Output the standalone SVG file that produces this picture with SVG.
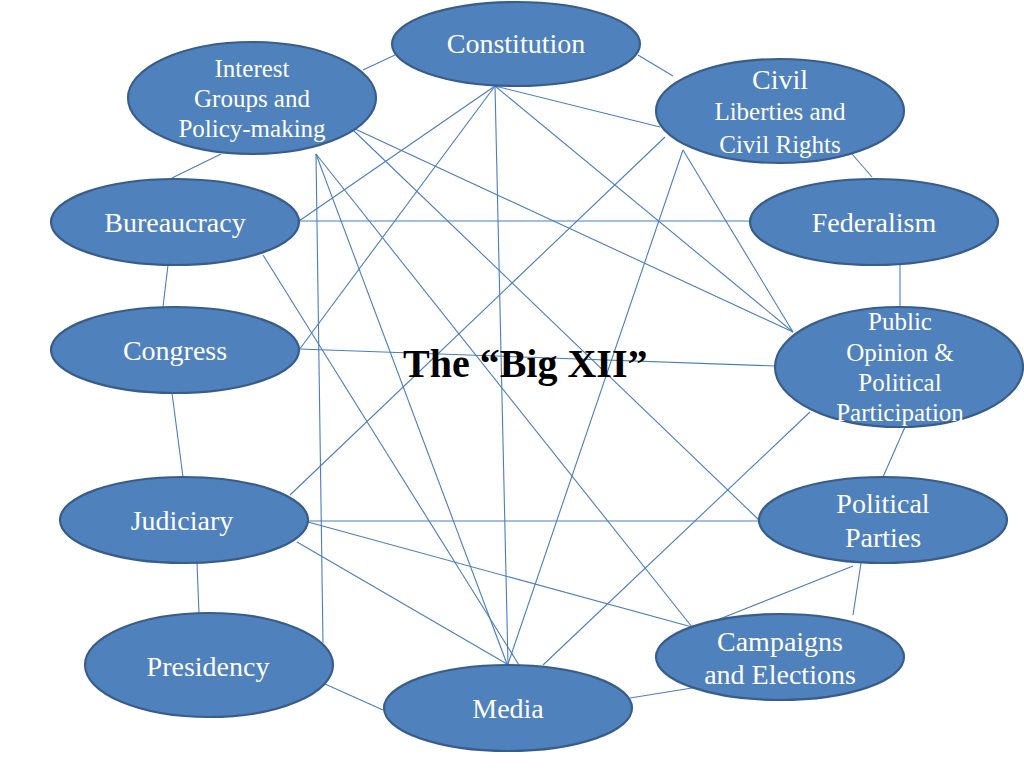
<svg xmlns="http://www.w3.org/2000/svg" width="1024" height="768" viewBox="0 0 1024 768">
<style>
.c line{stroke:#4A7EBB;stroke-width:1.1;fill:none}
.n ellipse{fill:#4F81BD;stroke:#385D8A;stroke-width:2.2}
.n text{fill:#ffffff;font-family:"Liberation Serif","Times New Roman",serif;text-anchor:middle}
.t28{font-size:28px}
.t25{font-size:25px}
.title{font-family:"Liberation Serif","Times New Roman",serif;font-weight:bold;font-size:40px;fill:#000000}
</style>
<rect width="1024" height="768" fill="#ffffff"/>
<g id="connectors" class="c">
<line x1="395" y1="55" x2="363" y2="70"/>
<line x1="638" y1="55" x2="673" y2="76"/>
<line x1="221" y1="154" x2="172" y2="178"/>
<line x1="852" y1="154" x2="872" y2="177"/>
<line x1="168" y1="265" x2="163" y2="307"/>
<line x1="900" y1="265" x2="900" y2="307"/>
<line x1="172" y1="393" x2="183" y2="477"/>
<line x1="905" y1="427" x2="883" y2="477"/>
<line x1="197" y1="563" x2="199" y2="614"/>
<line x1="861" y1="563" x2="853" y2="615"/>
<line x1="325" y1="684" x2="383" y2="710"/>
<line x1="630" y1="698" x2="692" y2="688"/>
<line x1="495" y1="86" x2="299" y2="221"/>
<line x1="495" y1="86" x2="299" y2="350"/>
<line x1="495" y1="86" x2="508" y2="664"/>
<line x1="495" y1="86" x2="660" y2="127"/>
<line x1="495" y1="86" x2="793" y2="332"/>
<line x1="299" y1="221" x2="750" y2="221"/>
<line x1="353" y1="128" x2="793" y2="332"/>
<line x1="353" y1="130" x2="759" y2="520"/>
<line x1="316" y1="154" x2="323" y2="643"/>
<line x1="316" y1="154" x2="507" y2="664"/>
<line x1="316" y1="154" x2="692" y2="627"/>
<line x1="665" y1="137" x2="290" y2="495"/>
<line x1="683" y1="150" x2="793" y2="332"/>
<line x1="683" y1="150" x2="508" y2="664"/>
<line x1="299" y1="349" x2="775" y2="366"/>
<line x1="263" y1="255" x2="519" y2="665"/>
<line x1="308" y1="521" x2="759" y2="521"/>
<line x1="308" y1="522" x2="692" y2="627"/>
<line x1="297" y1="542" x2="507" y2="664"/>
<line x1="810" y1="412" x2="543" y2="665"/>
<line x1="853" y1="566" x2="712" y2="622"/>
</g>
<g id="constitution" class="n"><ellipse cx="516" cy="44" rx="124" ry="42"/><text class="t28" x="516" y="53">Constitution</text></g>
<g id="interest-groups" class="n"><ellipse cx="252" cy="98" rx="124" ry="56"/><text class="t25" x="252" y="77">Interest</text><text class="t25" x="252" y="107">Groups and</text><text class="t25" x="252" y="137">Policy-making</text></g>
<g id="civil-liberties" class="n"><ellipse cx="780" cy="111" rx="124" ry="52"/><text class="t28" x="780" y="89">Civil</text><text class="t25" x="780" y="120">Liberties and</text><text class="t25" x="780" y="153">Civil Rights</text></g>
<g id="federalism" class="n"><ellipse cx="874" cy="222" rx="124" ry="43"/><text class="t28" x="874" y="232">Federalism</text></g>
<g id="bureaucracy" class="n"><ellipse cx="175" cy="222" rx="124" ry="43"/><text class="t28" x="175" y="232">Bureaucracy</text></g>
<g id="congress" class="n"><ellipse cx="175" cy="350" rx="124" ry="43"/><text class="t28" x="175" y="360">Congress</text></g>
<g id="public-opinion" class="n"><ellipse cx="899" cy="367" rx="124" ry="60"/><text class="t25" x="900" y="330">Public</text><text class="t25" x="900" y="361">Opinion &amp;</text><text class="t25" x="900" y="391">Political</text><text class="t25" x="900" y="421">Participation</text></g>
<g id="judiciary" class="n"><ellipse cx="184" cy="520" rx="124" ry="43"/><text class="t28" x="182" y="530">Judiciary</text></g>
<g id="political-parties" class="n"><ellipse cx="883" cy="520" rx="124" ry="43"/><text class="t28" x="883" y="513">Political</text><text class="t28" x="883" y="547">Parties</text></g>
<g id="presidency" class="n"><ellipse cx="209" cy="665" rx="124" ry="52"/><text class="t28" x="208" y="676">Presidency</text></g>
<g id="campaigns" class="n"><ellipse cx="780" cy="657" rx="124" ry="43"/><text class="t28" x="780" y="651">Campaigns</text><text class="t28" x="780" y="684">and Elections</text></g>
<g id="media" class="n"><ellipse cx="508" cy="708" rx="124" ry="43"/><text class="t28" x="508" y="718">Media</text></g>
<text class="title" x="403" y="377">The “Big XII”</text>
</svg>
